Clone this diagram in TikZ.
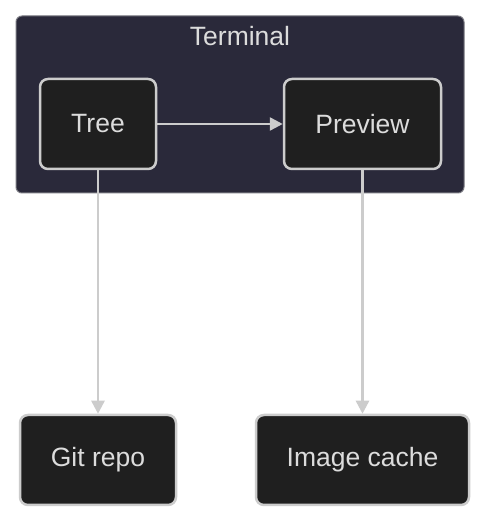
\documentclass[tikz,border=0pt]{standalone}
\usepackage{fontspec}
\setmainfont{Liberation Sans}
\usetikzlibrary{arrows.meta, positioning}
\definecolor{clusterbg}{RGB}{42,41,58}
\definecolor{clusterline}{RGB}{120,120,128}
\definecolor{boxbg}{RGB}{31,31,31}
\definecolor{boxline}{RGB}{204,204,204}
\definecolor{labeltext}{RGB}{220,220,220}

\tikzset{
    compbox/.style={draw=boxline, line width=2.5pt, fill=boxbg, rounded corners=8pt,
        minimum height=90pt, text=labeltext, font=\fontsize{26.5}{30}\selectfont},
    flow/.style={draw=boxline, line width=2.5pt, -{Triangle[length=13pt, width=13pt]}}
}

\begin{document}
\begin{tikzpicture}[x=1pt, y=1pt]
        % Page
        \useasboundingbox[fill=white] (0,0) rectangle (486,522);

        % Terminal cluster
        \draw[clusterline, fill=clusterbg, line width=1pt, rounded corners=6pt] (16,329) rectangle (464,506);
        \node[text=labeltext, font=\fontsize{26.5}{30}\selectfont] (terminal) at (240,486) {Terminal};

        % Components
        \node[compbox, minimum width=116pt] (tree) at (98,398) {Tree};
        \node[compbox, minimum width=157pt] (preview) at (362.5,398) {Preview};
        \node[compbox, minimum width=156pt] (git) at (98,62) {Git repo};
        \node[compbox, minimum width=213pt] (cache) at (362.5,62) {Image cache};

        % Connectors
        \draw[flow] (tree) -- (preview);
        \draw[flow] (tree) -- (git);
        \draw[flow] (preview) -- (cache);
    \end{tikzpicture}
\end{document}
